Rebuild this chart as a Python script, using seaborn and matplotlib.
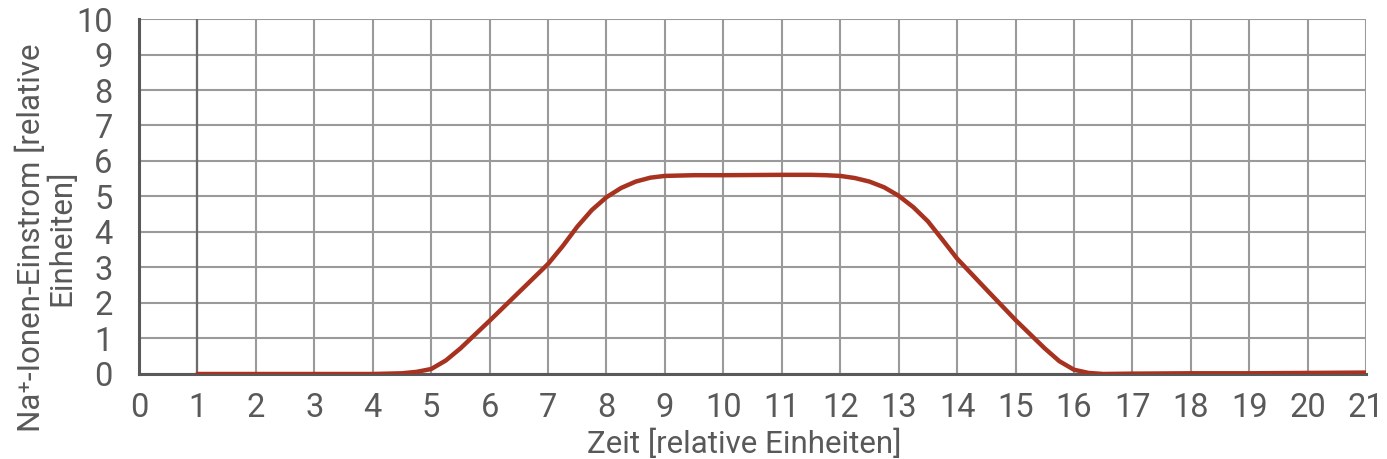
import numpy as np
import pandas as pd
import matplotlib
matplotlib.use("Agg")
import matplotlib.pyplot as plt
import seaborn as sns

# values
zeit = [1, 2, 3, 4, 4.25, 4.5, 4.75, 5, 5.25, 5.5, 6, 6.5, 7, 7.25, 7.5, 7.75, 8,
        8.25, 8.5, 8.75, 9, 9.5, 10, 11, 11.5, 11.75, 12, 12.25, 12.5, 12.75, 13,
        13.25, 13.5, 13.75, 14, 14.5, 15, 15.5, 15.75, 16, 16.25, 16.5, 17, 18,
        19, 20, 21]
einstrom = [0, 0, 0, 0, 0.01, 0.02, 0.06, 0.14, 0.38, 0.72, 1.5, 2.3, 3.1, 3.6,
            4.15, 4.62, 4.98, 5.24, 5.42, 5.53, 5.58, 5.6, 5.6, 5.61, 5.61, 5.6,
            5.58, 5.52, 5.42, 5.26, 5.02, 4.7, 4.3, 3.78, 3.25, 2.38, 1.52, 0.72,
            0.36, 0.12, 0.03, 0.0, 0.01, 0.02, 0.02, 0.03, 0.04]
x_ticks = list(range(0, 22))
y_ticks = list(range(0, 11))

df = pd.DataFrame({"Zeit": zeit, "Einstrom": einstrom})

sns.set_theme(style="white")
plt.rcParams["font.family"] = ["Roboto", "DejaVu Sans"]
text_col = "#595959"

fig = plt.figure(figsize=(13.87, 4.59), dpi=100)
ax = fig.add_axes([0.1002, 0.1852, 0.8848, 0.7734])

# grid
for xv in x_ticks:
    ax.axvline(xv, color="#9a9a9a", lw=1.5, zorder=0)
for yv in y_ticks:
    ax.axhline(yv, color="#9a9a9a", lw=1.5, zorder=0)
ax.axvline(1, color="#6b6b6b", lw=1.6, zorder=0.5)

sns.lineplot(data=df, x="Zeit", y="Einstrom", color="#a83220", lw=3.2, ax=ax, zorder=3)
ax.lines[-1].set_solid_joinstyle("round")

ax.set_xlim(0, 21)
ax.set_ylim(0, 10)
ax.set_xticks(x_ticks)
ax.set_yticks(y_ticks)
ax.tick_params(axis="x", direction="inout", length=10, width=1.6, color=text_col,
               labelsize=23.5, labelcolor=text_col, pad=8)
ax.tick_params(axis="y", length=0, labelsize=23.5, labelcolor=text_col, pad=19)

for side in ["top", "right"]:
    ax.spines[side].set_visible(False)
for side in ["left", "bottom"]:
    ax.spines[side].set_color(text_col)
    ax.spines[side].set_linewidth(2.2)
    ax.spines[side].set_zorder(2)

ax.set_xlabel("Zeit [relative Einheiten]", fontsize=22.5, color=text_col, labelpad=-4)
ax.xaxis.set_label_coords(0.493, -0.155)
ax.set_ylabel("Na\u207a-Ionen-Einstrom [relative\nEinheiten]", fontsize=22.5,
              color=text_col, ha="center", va="center", multialignment="center",
              linespacing=1.0)
ax.yaxis.set_label_coords(-0.0758, 0.385)

fig.savefig("out.png", dpi=100)
